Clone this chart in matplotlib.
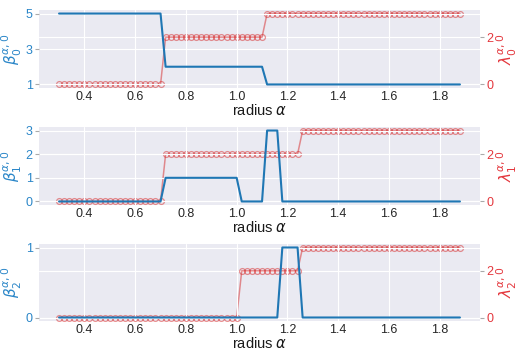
import numpy as np
import matplotlib
matplotlib.use("Agg")
import matplotlib.pyplot as plt
import seaborn as sns

sns.set_theme(style="darkgrid")
plt.rcParams['font.family'] = ['Liberation Sans', 'DejaVu Sans']

# radius values 0.30 .. 1.88 (step 0.02)
radius = [0.30, 0.32, 0.34, 0.36, 0.38, 0.40, 0.42, 0.44, 0.46, 0.48,
          0.50, 0.52, 0.54, 0.56, 0.58, 0.60, 0.62, 0.64, 0.66, 0.68,
          0.70, 0.72, 0.74, 0.76, 0.78, 0.80, 0.82, 0.84, 0.86, 0.88,
          0.90, 0.92, 0.94, 0.96, 0.98, 1.00, 1.02, 1.04, 1.06, 1.08,
          1.10, 1.12, 1.14, 1.16, 1.18, 1.20, 1.22, 1.24, 1.26, 1.28,
          1.30, 1.32, 1.34, 1.36, 1.38, 1.40, 1.42, 1.44, 1.46, 1.48,
          1.50, 1.52, 1.54, 1.56, 1.58, 1.60, 1.62, 1.64, 1.66, 1.68,
          1.70, 1.72, 1.74, 1.76, 1.78, 1.80, 1.82, 1.84, 1.86, 1.88]

beta0 = [5, 5, 5, 5, 5, 5, 5, 5, 5, 5,
         5, 5, 5, 5, 5, 5, 5, 5, 5, 5,
         5, 2, 2, 2, 2, 2, 2, 2, 2, 2,
         2, 2, 2, 2, 2, 2, 2, 2, 2, 2,
         2, 1, 1, 1, 1, 1, 1, 1, 1, 1,
         1, 1, 1, 1, 1, 1, 1, 1, 1, 1,
         1, 1, 1, 1, 1, 1, 1, 1, 1, 1,
         1, 1, 1, 1, 1, 1, 1, 1, 1, 1]
lambda0 = [0, 0, 0, 0, 0, 0, 0, 0, 0, 0,
           0, 0, 0, 0, 0, 0, 0, 0, 0, 0,
           0, 2, 2, 2, 2, 2, 2, 2, 2, 2,
           2, 2, 2, 2, 2, 2, 2, 2, 2, 2,
           2, 3, 3, 3, 3, 3, 3, 3, 3, 3,
           3, 3, 3, 3, 3, 3, 3, 3, 3, 3,
           3, 3, 3, 3, 3, 3, 3, 3, 3, 3,
           3, 3, 3, 3, 3, 3, 3, 3, 3, 3]

beta1 = [0, 0, 0, 0, 0, 0, 0, 0, 0, 0,
         0, 0, 0, 0, 0, 0, 0, 0, 0, 0,
         0, 1, 1, 1, 1, 1, 1, 1, 1, 1,
         1, 1, 1, 1, 1, 1, 0, 0, 0, 0,
         0, 3, 3, 3, 0, 0, 0, 0, 0, 0,
         0, 0, 0, 0, 0, 0, 0, 0, 0, 0,
         0, 0, 0, 0, 0, 0, 0, 0, 0, 0,
         0, 0, 0, 0, 0, 0, 0, 0, 0, 0]
lambda1 = [0, 0, 0, 0, 0, 0, 0, 0, 0, 0,
           0, 0, 0, 0, 0, 0, 0, 0, 0, 0,
           0, 2, 2, 2, 2, 2, 2, 2, 2, 2,
           2, 2, 2, 2, 2, 2, 2, 2, 2, 2,
           2, 2, 2, 2, 2, 2, 2, 2, 3, 3,
           3, 3, 3, 3, 3, 3, 3, 3, 3, 3,
           3, 3, 3, 3, 3, 3, 3, 3, 3, 3,
           3, 3, 3, 3, 3, 3, 3, 3, 3, 3]

beta2 = [0, 0, 0, 0, 0, 0, 0, 0, 0, 0,
         0, 0, 0, 0, 0, 0, 0, 0, 0, 0,
         0, 0, 0, 0, 0, 0, 0, 0, 0, 0,
         0, 0, 0, 0, 0, 0, 0, 0, 0, 0,
         0, 0, 0, 0, 1, 1, 1, 1, 0, 0,
         0, 0, 0, 0, 0, 0, 0, 0, 0, 0,
         0, 0, 0, 0, 0, 0, 0, 0, 0, 0,
         0, 0, 0, 0, 0, 0, 0, 0, 0, 0]
lambda2 = [0, 0, 0, 0, 0, 0, 0, 0, 0, 0,
           0, 0, 0, 0, 0, 0, 0, 0, 0, 0,
           0, 0, 0, 0, 0, 0, 0, 0, 0, 0,
           0, 0, 0, 0, 0, 0, 2, 2, 2, 2,
           2, 2, 2, 2, 2, 2, 2, 2, 3, 3,
           3, 3, 3, 3, 3, 3, 3, 3, 3, 3,
           3, 3, 3, 3, 3, 3, 3, 3, 3, 3,
           3, 3, 3, 3, 3, 3, 3, 3, 3, 3]

betas = [beta0, beta1, beta2]
lambdas = [lambda0, lambda1, lambda2]
left_ticks = [[1, 3, 5], [0, 1, 2, 3], [0, 1]]
right_ticks = [[0, 2], [0, 2], [0, 2]]
x_ticks = [0.4, 0.6, 0.8, 1.0, 1.2, 1.4, 1.6, 1.8]

blue = '#1f77b4'
blue_lab = '#2a86c8'
red_lab = '#e4373d'
red_line = '#d62728'

fig = plt.figure(figsize=(5.19, 3.56), dpi=100)
fig.patch.set_facecolor('white')

axes_pos = [(10, 88), (127, 205), (244, 321)]
W, H = 519, 356
for k in range(3):
    top, bot = axes_pos[k]
    ax = fig.add_axes([39 / W, 1 - bot / H, (480 - 39) / W, (bot - top) / H])
    ax2 = ax.twinx()
    # background on the twin (drawn first), primary axes on top
    ax2.set_zorder(1)
    ax.set_zorder(2)
    ax.patch.set_visible(False)
    ax2.patch.set_visible(True)
    ax2.patch.set_facecolor('#EAEAF2')

    ax.plot(radius, betas[k], color=blue, lw=1.5, zorder=3)
    ax.set_xticks(x_ticks)
    ax.set_xticklabels([f"{t:.1f}" for t in x_ticks])
    ax.set_yticks(left_ticks[k])
    ax.tick_params(axis='x', labelsize=9, colors='#262626', length=0, pad=2)
    ax.tick_params(axis='y', labelsize=9, colors=blue_lab, length=3, width=0.8,
                   left=True, pad=1.5)
    ax.tick_params(axis='y', color='#aaaaaa')
    ax.set_xlabel(r'radius $\alpha$', fontsize=10.5, color='#1a1a1a', labelpad=0)
    ax.set_ylabel(r'$\beta_{%d}^{\alpha,0}$' % k, fontsize=11, color=blue_lab, labelpad=1)
    for s in ax.spines.values():
        s.set_visible(False)
    ax.grid(True, color='white', lw=0.8)

    ax2.plot(radius, lambdas[k], color=red_line, alpha=0.5, lw=1.1,
             marker='o', ms=4.2, mfc='none', mew=0.9, zorder=2)
    ax2.set_yticks(right_ticks[k])
    ax2.tick_params(axis='y', labelsize=9, colors=red_lab, length=3, width=0.8,
                    right=True, pad=1.5)
    ax2.tick_params(axis='y', color='#aaaaaa')
    ax2.set_ylabel(r'$\lambda_{%d}^{\alpha,0}$' % k, fontsize=11, color=red_lab, labelpad=1)
    ax2.grid(True, color='white', lw=0.8)
    for s in ax2.spines.values():
        s.set_visible(False)

fig.savefig('out.png', dpi=100, facecolor='white')
